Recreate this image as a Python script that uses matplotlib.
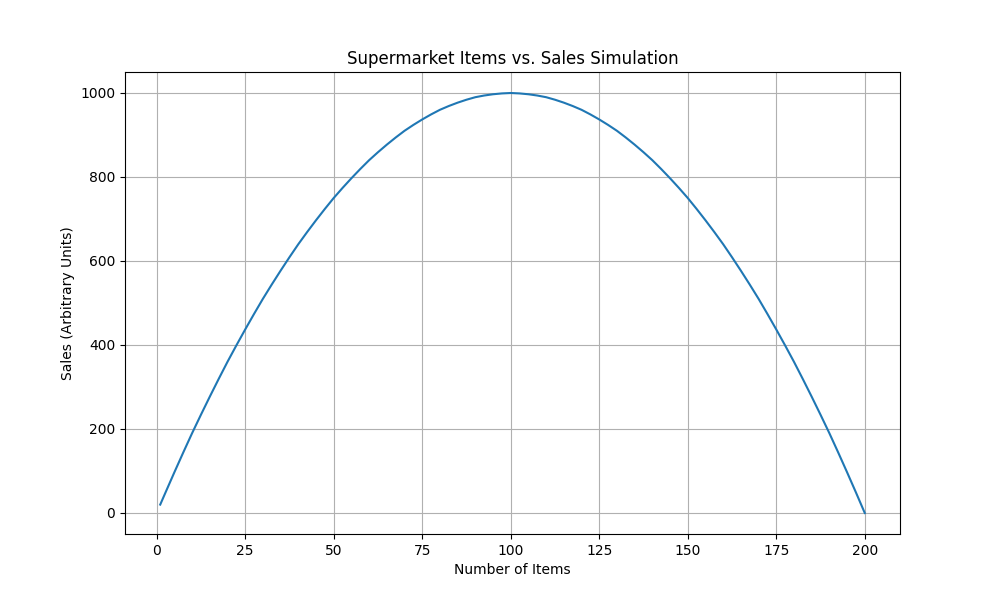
import matplotlib
matplotlib.use("Agg")
import matplotlib.pyplot as plt

# values
items = [1, 2.5, 5, 7.5, 10, 12.5, 15, 17.5, 20, 22.5, 25, 27.5, 30, 32.5, 35, 37.5,
         40, 42.5, 45, 47.5, 50, 52.5, 55, 57.5, 60, 62.5, 65, 67.5, 70, 72.5, 75,
         77.5, 80, 82.5, 85, 87.5, 90, 92.5, 95, 97.5, 100, 102.5, 105, 107.5, 110,
         112.5, 115, 117.5, 120, 122.5, 125, 127.5, 130, 132.5, 135, 137.5, 140,
         142.5, 145, 147.5, 150, 152.5, 155, 157.5, 160, 162.5, 165, 167.5, 170,
         172.5, 175, 177.5, 180, 182.5, 185, 187.5, 190, 192.5, 195, 197.5, 200]
sales = [20, 49, 97, 144, 190, 234, 277, 319, 360, 399, 437, 474, 510, 544, 577, 609,
         640, 669, 697, 724, 750, 774, 797, 819, 840, 859, 877, 894, 910, 924, 937,
         949, 960, 969, 977, 984, 990, 994, 997, 999, 1000, 999, 997, 994, 990,
         984, 977, 969, 960, 949, 937, 924, 910, 894, 877, 859, 840,
         819, 797, 774, 750, 724, 697, 669, 640, 609, 577, 544, 510,
         474, 437, 399, 360, 319, 277, 234, 190, 144, 97, 49, 0]

plt.figure(figsize=(10, 6), dpi=100)
plt.plot(items, sales, color='#1f77b4')
plt.title('Supermarket Items vs. Sales Simulation')
plt.xlabel('Number of Items')
plt.ylabel('Sales (Arbitrary Units)')
plt.grid(True)
plt.savefig('out.png')
